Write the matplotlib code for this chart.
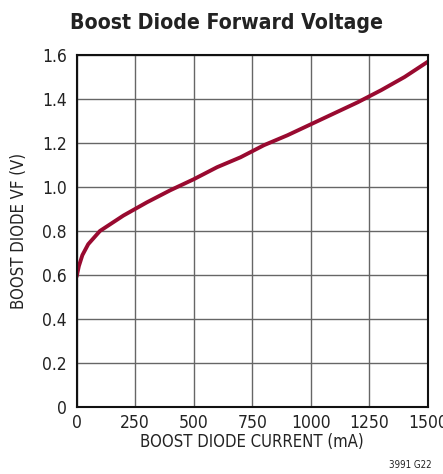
import matplotlib
matplotlib.use("Agg")
import matplotlib.pyplot as plt

plt.rcParams['font.family'] = ['DejaVu Sans']
plt.rcParams['font.stretch'] = 'condensed'

# 读图估计的数据
current_ma = [0, 10, 25, 50, 100, 150, 200, 250, 300, 400, 500, 600, 700,
              800, 900, 1000, 1100, 1200, 1300, 1400, 1500]
vf = [0.59, 0.64, 0.69, 0.74, 0.80, 0.835, 0.87, 0.90, 0.93, 0.985, 1.035,
      1.09, 1.135, 1.19, 1.235, 1.285, 1.335, 1.385, 1.44, 1.50, 1.57]

x_ticks = [0, 250, 500, 750, 1000, 1250, 1500]
y_ticks = [0, 0.2, 0.4, 0.6, 0.8, 1.0, 1.2, 1.4, 1.6]
y_labels = ['0', '0.2', '0.4', '0.6', '0.8', '1.0', '1.2', '1.4', '1.6']

fig = plt.figure(figsize=(4.43, 4.74), dpi=100)
ax = fig.add_axes([0.1727, 0.1414, 0.7935, 0.7426])

ax.plot(current_ma, vf, color='#990a30', linewidth=2.8, solid_capstyle='butt')

ax.set_xlim(0, 1500)
ax.set_ylim(0, 1.6)
ax.set_xticks(x_ticks)
ax.set_yticks(y_ticks)
ax.set_yticklabels(y_labels)
ax.tick_params(length=0, labelsize=12.5, colors='#222222')
ax.tick_params(axis='y', pad=7)
ax.tick_params(axis='x', pad=5)
ax.grid(True, color='#666666', linewidth=1.0)
ax.set_axisbelow(True)
for s in ax.spines.values():
    s.set_linewidth(1.5)
    s.set_color('#111111')

ax.set_xlabel('BOOST DIODE CURRENT (mA)', fontsize=12, color='#222222', labelpad=1)
ax.set_ylabel('BOOST DIODE VF (V)', fontsize=12, color='#222222', labelpad=10)

fig.text(0.511, 0.951, 'Boost Diode Forward Voltage', ha='center', va='center',
         fontsize=15.2, fontweight='bold', color='#222222')
fig.text(0.975, 0.008, '3991 G22', ha='right', va='bottom', fontsize=7, color='#222222')

fig.savefig('out.png', dpi=100)
